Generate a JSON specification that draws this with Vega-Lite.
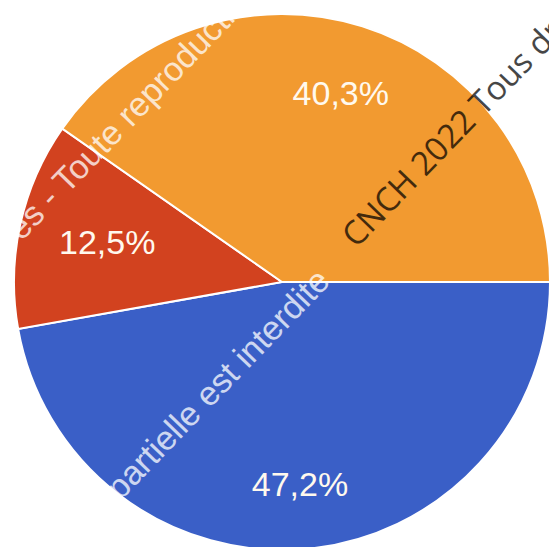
{
  "$schema": "https://vega.github.io/schema/vega-lite/v6.json",
  "width": 549,
  "height": 547,
  "autosize": "none",
  "padding": 0,
  "background": "white",
  "config": {"view": {"stroke": null}},
  "data": {
    "values": [
      {"segment": "Bleu", "value": 47.2, "label": "47,2%", "rank": 1},
      {"segment": "Rouge", "value": 12.5, "label": "12,5%", "rank": 2},
      {"segment": "Orange", "value": 40.3, "label": "40,3%", "rank": 3}
    ]
  },
  "layer": [
    {
      "mark": {"type": "arc", "outerRadius": 268, "stroke": "white", "strokeWidth": 2, "xOffset": 7.5, "yOffset": 8.5},
      "encoding": {
        "theta": {"field": "value", "type": "quantitative", "stack": true, "scale": {"range": [1.5707963, 7.8539816]}},
        "order": {"field": "rank", "type": "quantitative"},
        "color": {"field": "segment", "type": "nominal", "legend": null,
          "scale": {"domain": ["Bleu", "Rouge", "Orange"], "range": ["#3A5FC7", "#D2421F", "#F29A30"]}}
      }
    },
    {
      "mark": {"type": "text", "radius": {"expr": "datum.rank == 1 ? 205 : datum.rank == 2 ? 179 : 196"}, "font": "Liberation Sans", "fontSize": 34, "fill": "#FFF9EE", "align": "center", "baseline": "middle", "xOffset": 7.5, "yOffset": 8.5},
      "encoding": {
        "theta": {"field": "value", "type": "quantitative", "stack": true},
        "order": {"field": "rank", "type": "quantitative"},
        "text": {"field": "label", "type": "nominal"}
      }
    },
    {
      "data": {
        "values": [
          {"text": "Tous droits réservés - Toute reproduction partielle est interdite", "u": -172, "v": 428},
          {"text": "Tous droits réservés - Toute reproduction partielle est interdite", "u": -321, "v": 944}
        ]
      },
      "mark": {"type": "text", "angle": 314, "font": "Liberation Sans", "fontSize": 34, "fill": "white", "opacity": 0.75, "align": "left", "baseline": "middle"},
      "encoding": {
        "x": {"field": "u", "type": "quantitative", "axis": null, "scale": {"domain": [0, 549], "nice": false, "zero": false}},
        "y": {"field": "v", "type": "quantitative", "axis": null, "scale": {"domain": [0, 547], "nice": false, "zero": false, "reverse": true}},
        "text": {"field": "text", "type": "nominal"}
      }
    },
    {
      "data": {
        "values": [
          {"text": "CNCH 2022 Tous droits réservés - Toute reproduction partielle est interdite", "u": 349, "v": 242}
        ]
      },
      "mark": {"type": "text", "angle": 314, "font": "Open Sans", "fontSize": 33, "fill": "black", "opacity": 0.72, "align": "left", "baseline": "middle"},
      "encoding": {
        "x": {"field": "u", "type": "quantitative", "axis": null, "scale": {"domain": [0, 549], "nice": false, "zero": false}},
        "y": {"field": "v", "type": "quantitative", "axis": null, "scale": {"domain": [0, 547], "nice": false, "zero": false, "reverse": true}},
        "text": {"field": "text", "type": "nominal"}
      }
    }
  ]
}
